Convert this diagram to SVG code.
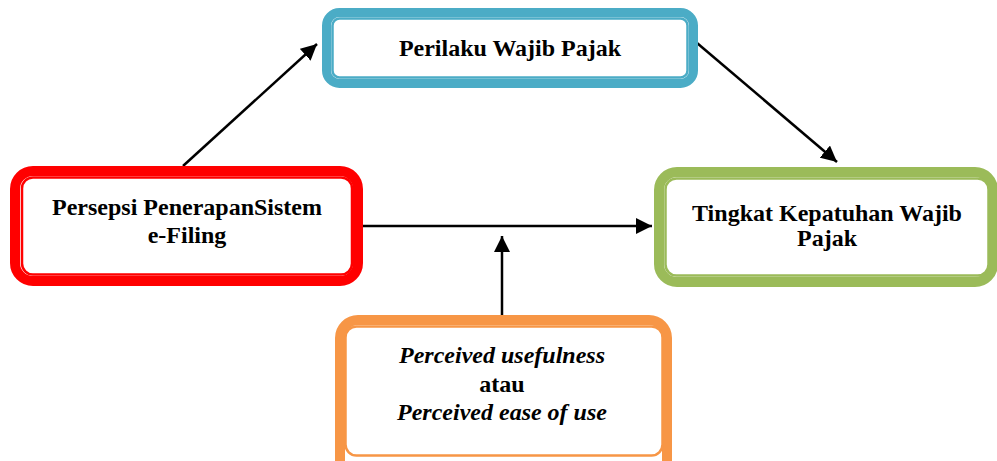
<svg xmlns="http://www.w3.org/2000/svg" width="997" height="461" viewBox="0 0 997 461">
<style>
.outer{fill:#fff;stroke-width:9}
.inner{fill:none;stroke-width:2.5}
.t{font-family:"Liberation Serif","Times New Roman",serif;font-weight:bold;font-size:24px;fill:#000;text-anchor:middle}
.i{font-style:italic}
.c{stroke:#000;stroke-width:2.5;fill:none;marker-end:url(#ah)}
</style>
<defs>
<marker id="ah" markerUnits="userSpaceOnUse" markerWidth="17" markerHeight="16" refX="16" refY="8" orient="auto">
<path d="M0,0 L16,8 L0,16 z" fill="#000"/>
</marker>
</defs>
<rect width="997" height="461" fill="#fff"/>
<g id="connectors">
<line class="c" x1="183" y1="166" x2="317" y2="44"/>
<line class="c" x1="697" y1="43" x2="837" y2="162"/>
<line class="c" x1="358" y1="226" x2="652" y2="226"/>
<line class="c" x1="502" y1="315" x2="502" y2="236"/>
</g>
<g id="perilaku">
<rect class="outer" x="326.5" y="12.5" width="367" height="71" rx="13" stroke="#4BACC6"/>
<rect class="inner" x="332.5" y="18.5" width="355" height="59" rx="7" stroke="#4BACC6"/>
<text class="t" x="510" y="56">Perilaku Wajib Pajak</text>
</g>
<g id="persepsi">
<rect class="outer" x="15" y="171" width="343" height="110" rx="18" stroke="#FF0000" style="stroke-width:10"/>
<rect class="inner" x="22" y="177.5" width="330" height="97" rx="11" stroke="#FF0000"/>
<text class="t" x="187" y="215">Persepsi PenerapanSistem</text>
<text class="t" x="187" y="243">e-Filing</text>
</g>
<g id="kepatuhan">
<rect class="outer" x="659" y="172" width="334" height="110" rx="18" stroke="#9BBB59" style="stroke-width:10"/>
<rect class="inner" x="665.5" y="178.5" width="323" height="97" rx="11" stroke="#9BBB59"/>
<text class="t" x="827" y="221">Tingkat Kepatuhan Wajib</text>
<text class="t" x="827" y="246">Pajak</text>
</g>
<g id="perceived">
<rect class="outer" x="340" y="320" width="327" height="160" rx="18" stroke="#F79646" style="stroke-width:10"/>
<rect class="inner" x="345.5" y="326.5" width="317" height="129" rx="11" stroke="#F79646"/>
<text class="t i" x="502" y="363">Perceived usefulness</text>
<text class="t" x="502" y="392">atau</text>
<text class="t i" x="502" y="420">Perceived ease of use</text>
</g>
</svg>
